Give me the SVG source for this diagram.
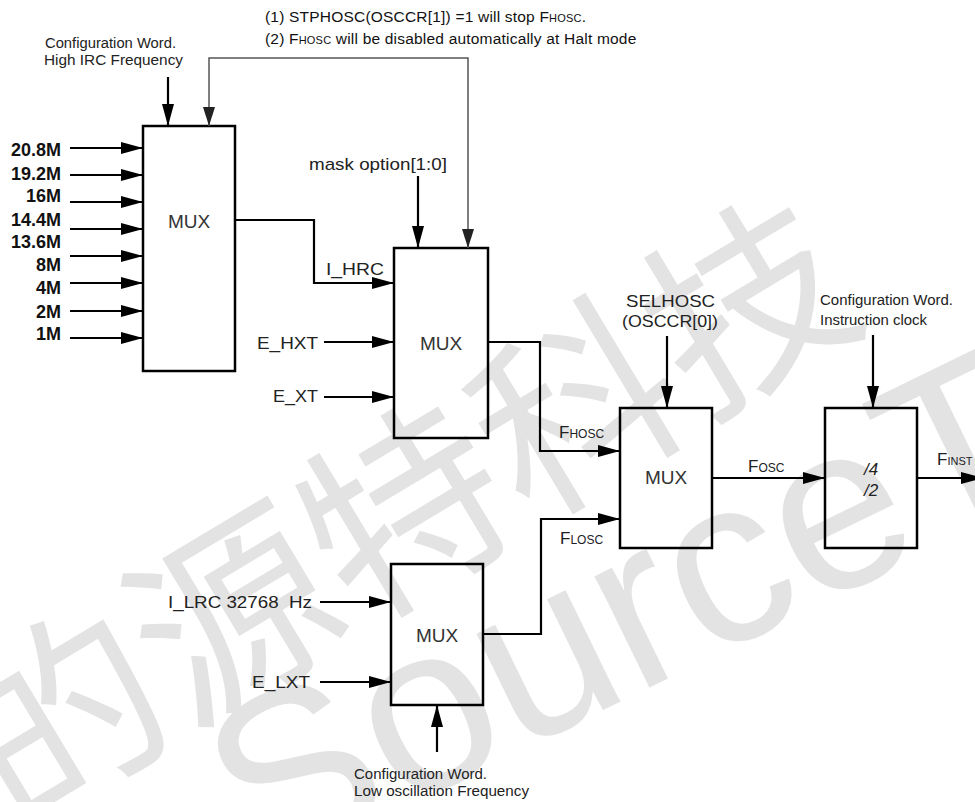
<svg xmlns="http://www.w3.org/2000/svg" width="975" height="802" viewBox="0 0 975 802">
<defs>
<marker id="ah" markerUnits="userSpaceOnUse" markerWidth="22" markerHeight="12" refX="22" refY="6" orient="auto"><path d="M0,0 L22,6 L0,12 z" fill="#000"/></marker>
<marker id="ahg" markerUnits="userSpaceOnUse" markerWidth="19" markerHeight="12" refX="19" refY="6" orient="auto-start-reverse"><path d="M0,0 L19,6 L0,12 z" fill="#222"/></marker>
</defs>
<style>
.wm{fill:#e3e3e3;}
.box{fill:none;stroke:#000;stroke-width:2.5;}
.ln{fill:none;stroke:#000;stroke-width:2.2;}
.gl{fill:none;stroke:#555;stroke-width:1.5;}
.t{font-family:"Liberation Sans",Arial,sans-serif;fill:#111;}
.in{font-family:"Liberation Sans",Arial,sans-serif;font-weight:bold;font-size:18px;fill:#111;text-anchor:end;}
.mux{font-family:"Liberation Sans",Arial,sans-serif;font-size:19px;fill:#333;text-anchor:middle;}
.sm{font-family:"Liberation Sans",Arial,sans-serif;font-size:14px;fill:#222;}
.lb{font-family:"Liberation Sans",Arial,sans-serif;font-size:17px;fill:#222;}
</style>
<g id="watermark">
<text class="wm" transform="translate(398,500) rotate(-31)" text-anchor="middle" dominant-baseline="central" font-family="'Noto Sans CJK SC',sans-serif" font-size="200">的源特科技</text>
<text class="wm" transform="translate(259,878) rotate(-26)" font-family="'Liberation Sans',sans-serif" font-size="235">SourceTe</text>
</g>
<g id="notes">
<text class="t" x="265" y="22" font-size="15.5" letter-spacing="0.2">(1) STPHOSC(OSCCR[1]) =1 will stop F<tspan font-size="11">HOSC</tspan>.</text>
<text class="t" x="265" y="44" font-size="15.5" letter-spacing="0.2">(2) F<tspan font-size="11">HOSC</tspan> will be disabled automatically at Halt mode</text>
</g>
<g id="cfg-high">
<text class="sm" x="45" y="48" textLength="131" lengthAdjust="spacingAndGlyphs">Configuration Word.</text>
<text class="sm" x="44" y="65" textLength="139" lengthAdjust="spacingAndGlyphs">High IRC Frequency</text>
</g>
<g id="inputs-hirc">
<text class="in" x="61" y="156">20.8M</text>
<text class="in" x="61" y="180">19.2M</text>
<text class="in" x="61" y="202">16M</text>
<text class="in" x="61" y="226">14.4M</text>
<text class="in" x="61" y="248">13.6M</text>
<text class="in" x="61" y="271">8M</text>
<text class="in" x="61" y="294">4M</text>
<text class="in" x="61" y="318">2M</text>
<text class="in" x="61" y="340">1M</text>
</g>
<g id="mux1">
<rect class="box" x="143" y="126" width="92" height="245"/>
<text class="mux" x="189" y="228">MUX</text>
</g>
<g id="mux2">
<rect class="box" x="394" y="248" width="94" height="190"/>
<text class="mux" x="441" y="350">MUX</text>
</g>
<g id="mask-option">
<text class="lb" x="309" y="170" textLength="138" lengthAdjust="spacingAndGlyphs">mask option[1:0]</text>
</g>
<g id="ext-high">
<text class="lb" x="257" y="349" textLength="61" lengthAdjust="spacingAndGlyphs">E_HXT</text>
<text class="lb" x="273" y="402" textLength="45" lengthAdjust="spacingAndGlyphs">E_XT</text>
</g>
<g id="mux3">
<rect class="box" x="620" y="408" width="92" height="140"/>
<text class="mux" x="666" y="484">MUX</text>
</g>
<g id="selhosc">
<text class="lb" x="626" y="307" textLength="89" lengthAdjust="spacingAndGlyphs">SELHOSC</text>
<text class="lb" x="622" y="327" textLength="96" lengthAdjust="spacingAndGlyphs">(OSCCR[0])</text>
</g>
<g id="divider">
<rect class="box" x="825" y="408" width="92" height="140"/>
<text class="lb" x="864" y="475" font-style="italic">/4</text>
<text class="lb" x="864" y="496" font-style="italic">/2</text>
</g>
<g id="cfg-inst">
<text class="sm" x="820" y="305" textLength="133" lengthAdjust="spacingAndGlyphs">Configuration Word.</text>
<text class="sm" x="820" y="325" textLength="107" lengthAdjust="spacingAndGlyphs">Instruction clock</text>
</g>
<g id="mux4">
<rect class="box" x="391" y="564" width="92" height="141"/>
<text class="mux" x="437" y="642">MUX</text>
</g>
<g id="ext-low">
<text class="lb" x="168" y="608" textLength="144" lengthAdjust="spacingAndGlyphs" xml:space="preserve">I_LRC 32768  Hz</text>
<text class="lb" x="252" y="688" textLength="58" lengthAdjust="spacingAndGlyphs">E_LXT</text>
</g>
<g id="cfg-low">
<text class="sm" x="354" y="779" textLength="133" lengthAdjust="spacingAndGlyphs">Configuration Word.</text>
<text class="sm" x="354" y="796" textLength="175" lengthAdjust="spacingAndGlyphs">Low oscillation Frequency</text>
</g>
<g id="signal-labels">
<text class="lb" x="326" y="275" textLength="58" lengthAdjust="spacingAndGlyphs">I_HRC</text>
<text class="lb" x="559" y="438">F<tspan font-size="12">HOSC</tspan></text>
<text class="lb" x="560" y="544">F<tspan font-size="12">LOSC</tspan></text>
<text class="lb" x="748" y="472">F<tspan font-size="12">OSC</tspan></text>
<text class="lb" x="937" y="465">F<tspan font-size="11">INST</tspan></text>
</g>
<g id="connectors">
<line class="ln" x1="70" y1="148" x2="143" y2="148" marker-end="url(#ah)"/>
<line class="ln" x1="70" y1="175" x2="143" y2="175" marker-end="url(#ah)"/>
<line class="ln" x1="70" y1="202" x2="143" y2="202" marker-end="url(#ah)"/>
<line class="ln" x1="70" y1="229" x2="143" y2="229" marker-end="url(#ah)"/>
<line class="ln" x1="70" y1="256" x2="143" y2="256" marker-end="url(#ah)"/>
<line class="ln" x1="70" y1="283" x2="143" y2="283" marker-end="url(#ah)"/>
<line class="ln" x1="70" y1="311" x2="143" y2="311" marker-end="url(#ah)"/>
<line class="ln" x1="70" y1="338" x2="143" y2="338" marker-end="url(#ah)"/>
<line class="ln" x1="168" y1="77" x2="168" y2="126" marker-end="url(#ah)"/>
<path class="gl" d="M468,248 V58 H209 V126" marker-start="url(#ahg)" marker-end="url(#ahg)"/>
<polyline class="ln" points="235,220 314,220 314,283 394,283" marker-end="url(#ah)"/>
<line class="ln" x1="418" y1="176" x2="418" y2="248" marker-end="url(#ah)"/>
<line class="ln" x1="324" y1="342" x2="394" y2="342" marker-end="url(#ah)"/>
<line class="ln" x1="324" y1="397" x2="394" y2="397" marker-end="url(#ah)"/>
<polyline class="ln" points="488,342 540,342 540,451 620,451" marker-end="url(#ah)"/>
<line class="ln" x1="667" y1="336" x2="667" y2="408" marker-end="url(#ah)"/>
<polyline class="ln" points="483,634 541,634 541,519 620,519" marker-end="url(#ah)"/>
<line class="ln" x1="320" y1="602" x2="391" y2="602" marker-end="url(#ah)"/>
<line class="ln" x1="320" y1="682" x2="391" y2="682" marker-end="url(#ah)"/>
<line class="ln" x1="437" y1="752" x2="437" y2="705" marker-end="url(#ah)"/>
<line class="ln" x1="712" y1="478" x2="825" y2="478" marker-end="url(#ah)"/>
<line class="ln" x1="873" y1="335" x2="873" y2="408" marker-end="url(#ah)"/>
<line class="ln" x1="917" y1="478" x2="983" y2="478" marker-end="url(#ah)"/>
</g>
</svg>
